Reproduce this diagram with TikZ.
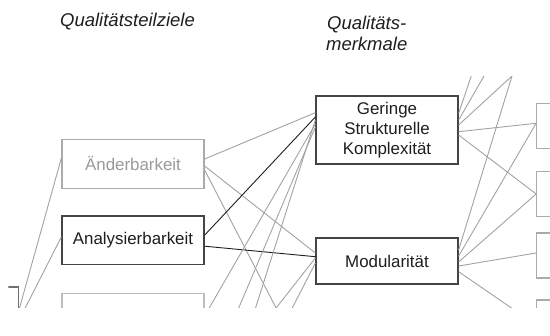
\documentclass[tikz,border=0pt]{standalone}
\usepackage{fontspec}
\setmainfont{Liberation Sans}
\usetikzlibrary{calc}
\definecolor{framedark}{HTML}{444444}
\definecolor{framegrey}{HTML}{ABABAB}
\definecolor{framelight}{HTML}{BDBDBD}
\definecolor{textgrey}{HTML}{9A9A9A}
\definecolor{textdark}{HTML}{1E1E1E}
\definecolor{linkgrey}{HTML}{A2A2A2}
\definecolor{linkdark}{HTML}{1E1E1E}
\definecolor{rootframe}{HTML}{707070}
\begin{document}
\begin{tikzpicture}[x=1pt,y=-1pt,
  every node/.style={inner sep=0pt, text=textdark,
    font=\fontsize{16.9}{20}\selectfont},
  heading/.style={font=\fontsize{18.5}{20.3}\selectfont\itshape, align=center},
  goalbox/.style={draw, line width=1.2pt, fill=white,
    minimum width=142pt, minimum height=48.5pt, align=center},
  featbox/.style={draw=framedark, line width=1.3pt, fill=white,
    minimum width=142pt, align=center},
  sidebox/.style={draw=framegrey, line width=1.1pt, fill=white,
    minimum width=60pt, minimum height=45pt},
  link/.style={draw=linkgrey, line width=0.9pt},
  strong/.style={draw=linkdark, line width=0.9pt}]
\useasboundingbox (0,0) rectangle (550,336);

% column headings
\node[heading] (h1) at (127.5,21.7) {Qualitätsteilziele};
\node[heading] (h2) at (366.7,33.4) {Qualitäts-\\merkmale};

\begin{scope}
\clip (8.3,76.7) rectangle (550,307.5);

% root node on the far left
\node[draw=rootframe, line width=1.1pt, fill=white,
  minimum width=76.6pt, minimum height=106pt] (root) at (-20,340) {};

% sub-goals
\node[goalbox, draw=framegrey, text=textgrey] (aend) at (133,164) {Änderbarkeit};
\node[goalbox, draw=framedark] (anal) at (133,240.2) {Analysierbarkeit};
\node[goalbox, draw=framelight] (goal3) at (133,317.5) {};
\coordinate (goal4) at (204,394.5);
\coordinate (goal5) at (204,471.5);

% features
\node[featbox, minimum height=68pt] (gering) at (387,130)
  {Geringe\\Strukturelle\\Komplexität};
\node[featbox, minimum height=46pt] (modul) at (387,261) {Modularität};
\coordinate (feat3) at (316,385);

% indicators on the right
\node[sidebox] (ind1) at (566.7,125.7) {};
\node[sidebox] (ind2) at (566.7,194) {};
\node[sidebox] (ind3) at (566.7,255.5) {};
\node[sidebox] (ind4) at (566.7,322.5) {};
\coordinate (up1) at (480,50);
\coordinate (up2) at (499,50);
\coordinate (up3) at (512,76);

% root to sub-goals
\draw[link] ($(root.north east)+(0,24)$) -- ($(aend.west)+(0,-6)$);
\draw[link] ($(root.north east)+(0,34)$) -- ($(anal.west)+(0,-3.3)$);

% sub-goals to features
\draw[link] ($(aend.east)+(0,-5)$) -- ($(gering.west)+(0,-17.3)$);
\draw[link] ($(aend.east)+(0,2)$) -- ($(modul.west)+(0,-8)$);
\draw[link] ($(aend.east)+(0,6)$) -- (feat3);
\draw[strong] ($(anal.east)+(0,-5)$) -- ($(gering.west)+(0,-13)$);
\draw[strong] ($(anal.east)+(0,6)$) -- ($(modul.west)+(0,-4.3)$);
\draw[link] ($(goal3.east)+(0,-1.5)$) -- ($(gering.west)+(0,-6)$);
\draw[link] ($(goal4)+(0,-4.5)$) -- ($(gering.west)+(0,-3)$);
\draw[link] ($(goal5)+(0,-1.5)$) -- ($(gering.west)+(0,-10)$);
\draw[link] ($(goal4)+(0,5.5)$) -- ($(modul.west)+(0,-3)$);
\draw[link] ($(goal5)+(0,8.5)$) -- ($(modul.west)+(0,2)$);

% features to indicators
\draw[link] ($(gering.east)+(0,-16.7)$) -- (up1);
\draw[link] ($(gering.east)+(0,-10)$) -- (up2);
\draw[link] ($(gering.east)+(0,-5)$) -- (up3);
\draw[link] ($(modul.east)+(0,-11)$) -- (up3);
\draw[link] ($(gering.east)+(0,1.7)$) -- ($(ind1.west)+(0,-2.4)$);
\draw[link] ($(gering.east)+(0,5)$) -- (ind2.west);
\draw[link] ($(modul.east)+(0,-5)$) -- ($(ind1.west)+(0,-2.4)$);
\draw[link] ($(modul.east)+(0,1)$) -- (ind2.west);
\draw[link] ($(modul.east)+(0,5)$) -- ($(ind3.west)+(0,-2.5)$);
\draw[link] ($(modul.east)+(0,10.7)$) -- ($(ind4.west)+(0,2.5)$);
\end{scope}
\end{tikzpicture}
\end{document}
